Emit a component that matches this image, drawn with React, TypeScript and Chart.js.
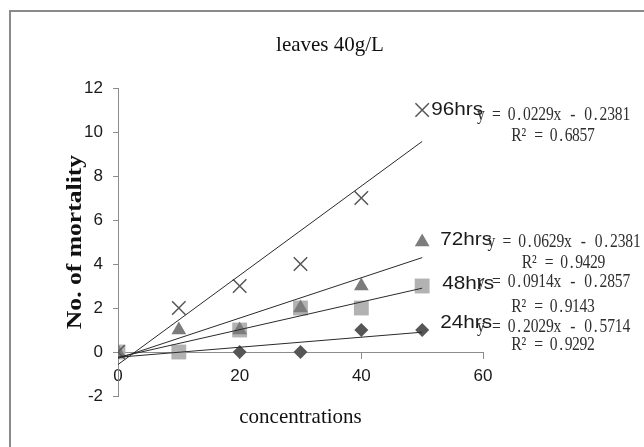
import { useEffect, useRef } from 'react';
import { Chart, registerables } from 'chart.js';

Chart.register(...registerables);

// ---- data ----
const concentrations = [0, 10, 20, 30, 40, 50];
const mortality96 = [0, 2, 3, 4, 7, 11];
const mortality72 = [0, 1, 1, 2, 3, 5];
const mortality48 = [0, 0, 1, 2, 2, 3];
const mortality24 = [0, 0, 0, 0, 1, 1];
const seriesNames = ['96hrs', '72hrs', '48hrs', '24hrs'];

// linear trendlines: values at the start and end concentration
const trendX = [0, 50];
const trend96 = [-0.57, 9.57];
const trend72 = [-0.29, 4.29];
const trend48 = [-0.24, 2.9];
const trend24 = [-0.24, 0.9];

const equations = ['y = 0.0229x - 0.2381', 'y = 0.0629x - 0.2381', 'y = 0.0914x - 0.2857', 'y = 0.2029x - 0.5714'];
const rSquared = ['R² = 0.6857', 'R² = 0.9429', 'R² = 0.9143', 'R² = 0.9292'];

const chartTitle = 'leaves 40g/L';
const xTitle = 'concentrations';
const yTitle = 'No. of mortality';

const xMin = 0, xMax = 60, xStep = 20;
const yMin = -2, yMax = 12, yStep = 2;

// ---- styles ----
const markerStyles = [
  { style: 'crossRot', radius: 9.5, fill: '#555555', border: '#555555', bw: 1.5 },
  { style: 'triangle', radius: 8.5, fill: '#7c7c7c', border: '#7c7c7c', bw: 0 },
  { style: 'rect', radius: 10.5, fill: '#b2b2b2', border: '#b2b2b2', bw: 0 },
  { style: 'rectRot', radius: 7, fill: '#565656', border: '#565656', bw: 0 },
];
const labelOffsets = [
  { dx: 9, dy: 0 },
  { dx: 18, dy: -2 },
  { dx: 20, dy: -2 },
  { dx: 18, dy: -7 },
];
const eqOffsets = [
  { dx: 131.5, dy: 4.7, gap: 21.6 },
  { dx: 142, dy: 0, gap: 20.8 },
  { dx: 131.5, dy: -4.3, gap: 25 },
  { dx: 131.5, dy: -3.3, gap: 18.3 },
];
const tickFont = { family: "'Liberation Sans', Arial, sans-serif", size: 17 };
const axisColor = '#8c8c8c';

function pts(ys: number[]) {
  return concentrations.map((x, i) => ({ x, y: ys[i] }));
}
function trend(ys: number[]) {
  return trendX.map((x, i) => ({ x, y: ys[i] }));
}

function drawMono(ctx: CanvasRenderingContext2D, text: string, cx: number, cy: number, cell: number, sx: number) {
  const chars = Array.from(text);
  let x = cx - (chars.length * cell) / 2 + cell / 2;
  for (const ch of chars) {
    ctx.save();
    ctx.translate(x, cy);
    ctx.scale(sx, 1);
    ctx.fillText(ch, 0, 0);
    ctx.restore();
    x += cell;
  }
}

const decorPlugin = {
  id: 'decor',
  beforeDraw(chart: any) {
    const ctx = chart.ctx as CanvasRenderingContext2D;
    ctx.save();
    ctx.fillStyle = '#ffffff';
    ctx.fillRect(0, 0, chart.width, chart.height);
    ctx.strokeStyle = '#8a8a8a';
    ctx.lineWidth = 2;
    ctx.strokeRect(10, 11, chart.width + 20, chart.height + 20);
    ctx.restore();
  },
  afterDraw(chart: any) {
    const ctx = chart.ctx as CanvasRenderingContext2D;
    const area = chart.chartArea;
    ctx.save();
    // title
    ctx.fillStyle = '#111';
    ctx.textAlign = 'center';
    ctx.textBaseline = 'alphabetic';
    ctx.font = "21px 'Liberation Serif', serif";
    ctx.fillText(chartTitle, 330, 51);
    // x axis title
    ctx.fillText(xTitle, (area.left + area.right) / 2, area.bottom + 27);
    // y axis title
    ctx.save();
    ctx.translate(81, (area.top + area.bottom) / 2);
    ctx.rotate(-Math.PI / 2);
    ctx.scale(1.22, 1);
    ctx.font = "bold 21px 'Liberation Serif', serif";
    ctx.fillText(yTitle, 0, 0);
    ctx.restore();

    // series labels + trendline equations
    seriesNames.forEach((name, s) => {
      const meta = chart.getDatasetMeta(s + 4);
      const last = meta.data[meta.data.length - 1];
      const px = last.x, py = last.y;
      ctx.save();
      ctx.fillStyle = '#1a1a1a';
      ctx.textAlign = 'left';
      ctx.textBaseline = 'middle';
      ctx.font = "18.5px 'Liberation Sans', Arial, sans-serif";
      ctx.translate(px + labelOffsets[s].dx, py + labelOffsets[s].dy);
      ctx.scale(1.12, 1);
      ctx.fillText(name, 0, 0);
      ctx.restore();

      ctx.save();
      ctx.fillStyle = '#2e2e2e';
      ctx.textAlign = 'center';
      ctx.textBaseline = 'middle';
      ctx.font = "19.5px 'Liberation Serif', serif";
      const cx = px + eqOffsets[s].dx;
      const cy = py + eqOffsets[s].dy;
      drawMono(ctx, equations[s], cx, cy, 7.65, 0.8);
      drawMono(ctx, rSquared[s], cx, cy + eqOffsets[s].gap, 7.45, 0.8);
      ctx.restore();
    });
    ctx.restore();
  },
};

export default function App() {
  const ref = useRef<HTMLCanvasElement | null>(null);

  useEffect(() => {
    const canvas = ref.current;
    if (!canvas) return;
    const seriesData = [mortality96, mortality72, mortality48, mortality24];
    const trends = [trend96, trend72, trend48, trend24];
    const trendSets = trends.map((t, i) => ({
      type: 'line' as const,
      label: seriesNames[i] + ' trend',
      data: trend(t),
      borderColor: '#2a2a2a',
      borderWidth: 1,
      pointRadius: 0,
      fill: false,
      tension: 0,
    }));
    const markerSets = seriesData.map((d, i) => ({
      type: 'scatter' as const,
      label: seriesNames[i],
      data: pts(d),
      pointStyle: markerStyles[i].style,
      pointRadius: markerStyles[i].radius,
      backgroundColor: markerStyles[i].fill,
      borderColor: markerStyles[i].border,
      borderWidth: markerStyles[i].bw,
      showLine: false,
    }));
    // trendlines first so they are drawn on top of the markers
    const datasets: any[] = [...trendSets, ...markerSets];
    const chart = new Chart(canvas, {
      type: 'scatter',
      data: { datasets },
      options: {
        responsive: false,
        animation: false,
        layout: { padding: { left: 0, top: 88, right: 161, bottom: 51 } },
        plugins: {
          legend: { display: false },
          tooltip: { enabled: false },
          title: { display: false },
        },
        scales: {
          x: {
            type: 'linear',
            position: { y: 0 } as any,
            min: xMin,
            max: xMax,
            ticks: { stepSize: xStep, font: tickFont, color: '#1a1a1a', padding: 8 },
            grid: { display: true, drawOnChartArea: false, drawTicks: true, tickLength: 6, color: axisColor },
            border: { display: true, color: axisColor, width: 1 },
          },
          y: {
            type: 'linear',
            position: 'left',
            min: yMin,
            max: yMax,
            ticks: { stepSize: yStep, font: tickFont, color: '#1a1a1a', padding: 10 },
            grid: { display: true, drawOnChartArea: false, drawTicks: true, tickLength: 5, color: axisColor },
            border: { display: true, color: axisColor, width: 1 },
            afterFit: (scale: any) => {
              scale.width = 118;
            },
          },
        },
      },
      plugins: [decorPlugin],
    });
    return () => chart.destroy();
  }, []);

  return (
    <div style={{ position: 'absolute', left: 0, top: 0, width: 644, height: 447, overflow: 'hidden' }}>
      <canvas ref={ref} width={644} height={447} style={{ display: 'block', width: 644, height: 447 }} />
    </div>
  );
}
